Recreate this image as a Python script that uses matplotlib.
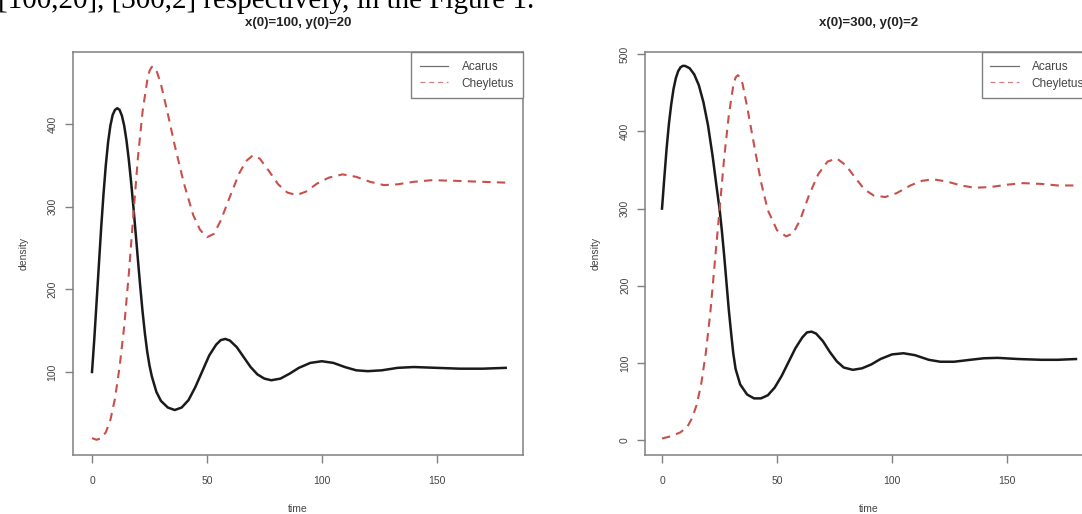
import numpy as np
import matplotlib
matplotlib.use("Agg")
import matplotlib.pyplot as plt
from matplotlib.lines import Line2D

plt.rcParams['font.family'] = ['Liberation Sans', 'DejaVu Sans']

# data
#-----------------------------------------------------------------------------#
# x(0)=100, y(0)=20
t_a1 = [0, 1, 2, 3, 4, 5, 6, 7, 8, 9, 10, 11, 12, 13, 14, 15, 16, 17, 18, 19,
        20, 21, 22, 23, 24, 25, 26, 28, 30, 33, 36, 39, 42, 45, 48, 51, 54,
        56, 58, 60, 63, 66, 69, 72, 75, 78, 82, 86, 90, 95, 100, 105, 110,
        115, 120, 126, 133, 140, 150, 160, 170, 180]
acarus1 = [100, 140, 185, 230, 275, 315, 350, 378, 398, 411, 417, 419, 417,
           410, 398, 380, 357, 330, 300, 268, 235, 203, 173, 147, 125, 108,
           95, 76, 65, 57, 54, 57, 66, 82, 101, 120, 133, 138.5, 140, 138,
           130, 118, 106, 97, 92, 90, 92, 98, 105, 111, 113, 111, 106, 102,
           101, 102, 105, 106, 105, 104, 104, 105]
t_c1 = [0, 2, 4, 6, 8, 10, 12, 14, 16, 18, 20, 22, 24, 25, 26, 27, 28, 30, 33,
        36, 40, 44, 47, 50, 53, 56, 60, 64, 67, 70, 73, 77, 81, 85, 89, 93,
        98, 103, 109, 115, 121, 127, 133, 140, 148, 160, 170, 180]
cheyl1 = [20, 18, 20, 27, 42, 68, 106, 155, 218, 290, 360, 415, 452, 464, 469,
          469, 465, 448, 412, 374, 328, 290, 272, 263, 267, 283, 312, 340, 355,
          362, 358, 343, 327, 317, 314, 318, 328, 335, 339, 336, 330, 326, 327,
          330, 332, 331, 330, 329]

# x(0)=300, y(0)=2
t_a2 = [0, 1, 2, 3, 4, 5, 6, 7, 8, 9, 10, 12, 14, 16, 18, 20, 22, 24, 25, 26,
        27, 28, 29, 30, 31, 32, 34, 37, 40, 43, 46, 49, 52, 55, 58, 61, 63,
        65, 67, 70, 73, 76, 79, 83, 87, 91, 95, 100, 105, 110, 116, 121, 127,
        134, 140, 146, 155, 165, 172, 180]
acarus2 = [300, 340, 378, 410, 435, 455, 469, 478, 483, 485, 485, 482, 474,
           460, 438, 408, 368, 322, 300, 272, 240, 205, 170, 140, 112, 92, 72,
           59, 54, 54, 58, 68, 83, 101, 119, 133, 139.5, 140.5, 138, 128, 114,
           102, 94, 91, 93, 98, 105, 111, 112.5, 110, 104, 101.5, 101.5, 104,
           106, 106.5, 105, 104, 104, 105]
t_c2 = [0, 4, 8, 11, 13, 15, 17, 19, 21, 23, 25, 27, 29, 31, 32, 33, 34, 35,
        37, 40, 43, 46, 50, 54, 57, 60, 64, 68, 72, 76, 80, 84, 88, 92, 97,
        102, 108, 113, 118, 124, 130, 136, 143, 150, 157, 165, 172, 180]
cheyl2 = [2, 5, 10, 17, 28, 45, 72, 112, 165, 232, 298, 365, 420, 460, 470,
          473, 470, 462, 432, 383, 335, 298, 272, 264, 268, 285, 318, 345, 361,
          365, 356, 340, 325, 317, 315, 320, 330, 336, 338, 335, 330, 327, 328,
          331, 333, 332, 330, 330]

titles = ["x(0)=100, y(0)=20", "x(0)=300, y(0)=2"]
series_names = ["Acarus", "Cheyletus"]
xticks = [0, 50, 100, 150]
yticks1 = [100, 200, 300, 400]
yticks2 = [0, 100, 200, 300, 400, 500]

#figure
#-----------------------------------------------------------------------------#
W, H = 1082, 514
fig = plt.figure(figsize=(W/100, H/100), dpi=100)

def px(x0, x1, y0, y1):
    return [x0/W, 1 - y1/H, (x1 - x0)/W, (y1 - y0)/H]

ax1 = fig.add_axes(px(72.7, 522.7, 52, 455))
ax2 = fig.add_axes(px(645, 1093, 52, 455))

red = '#c8504a'
grey = '#808080'
panels = [(ax1, t_a1, acarus1, t_c1, cheyl1, yticks1, (-8.4, 187.4), (-0.4, 487)),
          (ax2, t_a2, acarus2, t_c2, cheyl2, yticks2, (-7.4, 187.4), (-19.4, 503))]

for i, (ax, ta, a, tc, c, yt, xl, yl) in enumerate(panels):
    ax.plot(ta, a, color='#1a1a1a', lw=1.8)
    ax.plot(tc, c, color=red, lw=1.5, ls=(0, (4, 3)))
    ax.set_xlim(*xl)
    ax.set_ylim(*yl)
    ax.set_xticks(xticks)
    ax.set_yticks(yt)
    for s in ax.spines.values():
        s.set_color(grey)
        s.set_linewidth(1.1)
    ax.tick_params(axis='both', color=grey, length=5.8, width=1.0,
                   labelsize=7.5, labelcolor='#444444')
    ax.tick_params(axis='x', pad=9)
    ax.tick_params(axis='y', pad=5, labelrotation=90)
    for lab in ax.get_yticklabels():
        lab.set_va('center')
    ax.set_xlabel('time', fontsize=7.5, color='#444444', labelpad=13)
    ax.set_ylabel('density', fontsize=7.5, color='#444444', labelpad=14)
    ax.set_title(titles[i], fontsize=9.5, fontweight='bold', color='#222222',
                 pad=18.5)
    handles = [Line2D([], [], color='#707070', lw=0.9),
               Line2D([], [], color='#d08080', lw=0.9, ls=(0, (4, 3)))]
    leg = ax.legend(handles, series_names, loc='upper right',
                    bbox_to_anchor=(1, 1), fontsize=8.5,
                    frameon=True, fancybox=False, borderaxespad=0,
                    borderpad=0.75, handlelength=2.4, handletextpad=1.1,
                    labelspacing=0.4, framealpha=1)
    leg.get_frame().set_edgecolor(grey)
    leg.get_frame().set_linewidth(1.0)
    for txt in leg.get_texts():
        txt.set_color('#444444')

# caption line of the paper, cut at the top of the picture
fig.text(-2/W, 1 - 7.5/H, "[100,20], [300,2] respectively, in the Figure 1.",
         family=['Liberation Serif', 'DejaVu Serif'], fontsize=21,
         va='baseline', ha='left', color='black')

fig.savefig('out.png', dpi=100)
